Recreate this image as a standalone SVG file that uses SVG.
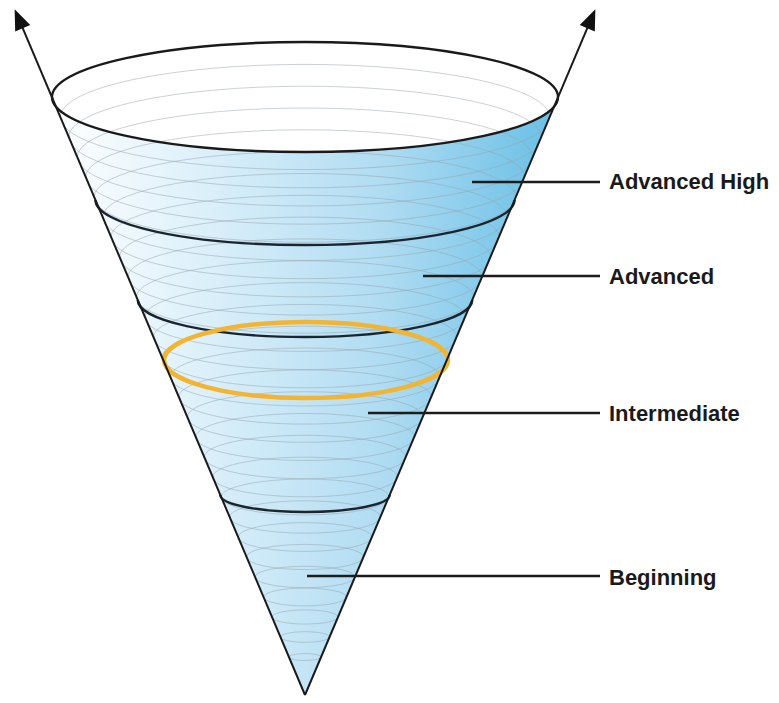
<svg xmlns="http://www.w3.org/2000/svg" width="779" height="703" viewBox="0 0 779 703">
  <style>
    .ring{fill:none;stroke:#98a6b0;stroke-opacity:0.5;stroke-width:1}
    .band{fill:none;stroke:#1b2530;stroke-width:2.4}
    .edge{fill:none;stroke:#1a1a1a;stroke-width:2}
    .leader{fill:none;stroke:#1c1c1c;stroke-width:2.5}
    .label{font-family:"Liberation Sans",Arial,Helvetica,sans-serif;font-weight:bold;font-size:22px;fill:#1a1a1a}
  </style>
  <defs>
    <linearGradient id="coneFill" gradientUnits="userSpaceOnUse" x1="52" y1="0" x2="558" y2="0">
      <stop offset="0" stop-color="#ffffff"/>
      <stop offset="0.3" stop-color="#dcf0fa"/>
      <stop offset="0.65" stop-color="#b0dcf2"/>
      <stop offset="1" stop-color="#68bfe6"/>
    </linearGradient>
    <clipPath id="coneClip">
      <polygon points="52,97 305,695 558,97"/>
      <ellipse cx="305" cy="97" rx="253" ry="55"/>
    </clipPath>
    <marker id="arrow" markerUnits="userSpaceOnUse" markerWidth="24" markerHeight="24" viewBox="-10 -10 22 20" refX="0" refY="0" orient="auto">
      <path d="M10,0 L-9,-7.5 L-9,7.5 Z" fill="#111"/>
    </marker>
  </defs>

  <rect width="779" height="703" fill="#ffffff"/>

  <g id="cone">
    <ellipse cx="305" cy="97" rx="253" ry="55" fill="#ffffff"/>
    <path d="M52,97 L305,695 L558,97 A253,55 0 0 1 52,97 Z" fill="url(#coneFill)"/>
  </g>

  <g id="rings" clip-path="url(#coneClip)">
    <ellipse class="ring" cx="305" cy="117" rx="244.8" ry="52.6"/>
    <ellipse class="ring" cx="305" cy="137" rx="236.3" ry="50.8"/>
    <ellipse class="ring" cx="305" cy="157" rx="227.8" ry="49.0"/>
    <ellipse class="ring" cx="305" cy="177" rx="219.4" ry="47.2"/>
    <ellipse class="ring" cx="305" cy="197" rx="210.9" ry="45.3"/>
    <ellipse class="ring" cx="305" cy="217" rx="202.4" ry="43.5"/>
    <ellipse class="ring" cx="305" cy="237" rx="194.0" ry="41.7"/>
    <ellipse class="ring" cx="305" cy="257" rx="185.5" ry="39.9"/>
    <ellipse class="ring" cx="305" cy="277" rx="177.0" ry="38.1"/>
    <ellipse class="ring" cx="305" cy="297" rx="168.6" ry="36.2"/>
    <ellipse class="ring" cx="305" cy="317" rx="160.1" ry="34.4"/>
    <ellipse class="ring" cx="305" cy="337" rx="151.6" ry="32.6"/>
    <ellipse class="ring" cx="305" cy="357" rx="143.1" ry="30.8"/>
    <ellipse class="ring" cx="305" cy="377" rx="134.7" ry="29.0"/>
    <ellipse class="ring" cx="305" cy="397" rx="126.2" ry="27.1"/>
    <ellipse class="ring" cx="305" cy="417" rx="117.7" ry="25.3"/>
    <ellipse class="ring" cx="305" cy="437" rx="109.3" ry="23.5"/>
    <ellipse class="ring" cx="305" cy="457" rx="100.8" ry="21.7"/>
    <ellipse class="ring" cx="305" cy="477" rx="92.3" ry="19.8"/>
    <ellipse class="ring" cx="305" cy="497" rx="83.9" ry="18.0"/>
    <ellipse class="ring" cx="305" cy="517" rx="75.4" ry="16.2"/>
    <ellipse class="ring" cx="305" cy="537" rx="66.9" ry="14.4"/>
    <ellipse class="ring" cx="305" cy="557" rx="58.5" ry="12.6"/>
    <ellipse class="ring" cx="305" cy="577" rx="50.0" ry="10.7"/>
    <ellipse class="ring" cx="305" cy="597" rx="41.5" ry="8.9"/>
    <ellipse class="ring" cx="305" cy="617" rx="33.0" ry="7.1"/>
    <ellipse class="ring" cx="305" cy="637" rx="24.6" ry="5.3"/>
    <ellipse class="ring" cx="305" cy="657" rx="16.1" ry="3.5"/>
  </g>

  <g id="band-boundaries">
    <path class="band" d="M95.4,200 A209.6,45 0 0 0 514.6,200"/>
    <path class="band" d="M137.7,300 A167.3,37 0 0 0 472.3,300"/>
    <path class="band" d="M220.3,495 A84.7,17 0 0 0 389.7,495"/>
  </g>

  <g id="rim">
    <ellipse cx="305" cy="97" rx="253" ry="55" fill="none" stroke="#1a1a1a" stroke-width="2.4"/>
  </g>

  <g id="focus-ellipse">
    <ellipse cx="306" cy="360" rx="142" ry="38" fill="none" stroke="#f2b431" stroke-width="4.5"/>
  </g>

  <g id="cone-edges">
    <line class="edge" x1="305" y1="695" x2="18.9" y2="19.2" marker-end="url(#arrow)"/>
    <line class="edge" x1="305" y1="695" x2="591.1" y2="19.2" marker-end="url(#arrow)"/>
  </g>

  <g id="connectors">
    <line class="leader" x1="472" y1="182" x2="600" y2="182"/>
    <line class="leader" x1="423" y1="276" x2="600" y2="276"/>
    <line class="leader" x1="368" y1="413" x2="600" y2="413"/>
    <line class="leader" x1="307" y1="576" x2="600" y2="576"/>
  </g>

  <g id="label-advanced-high">
    <text class="label" x="609" y="189">Advanced High</text>
  </g>
  <g id="label-advanced">
    <text class="label" x="609" y="284">Advanced</text>
  </g>
  <g id="label-intermediate">
    <text class="label" x="609" y="421">Intermediate</text>
  </g>
  <g id="label-beginning">
    <text class="label" x="609" y="585">Beginning</text>
  </g>
</svg>
